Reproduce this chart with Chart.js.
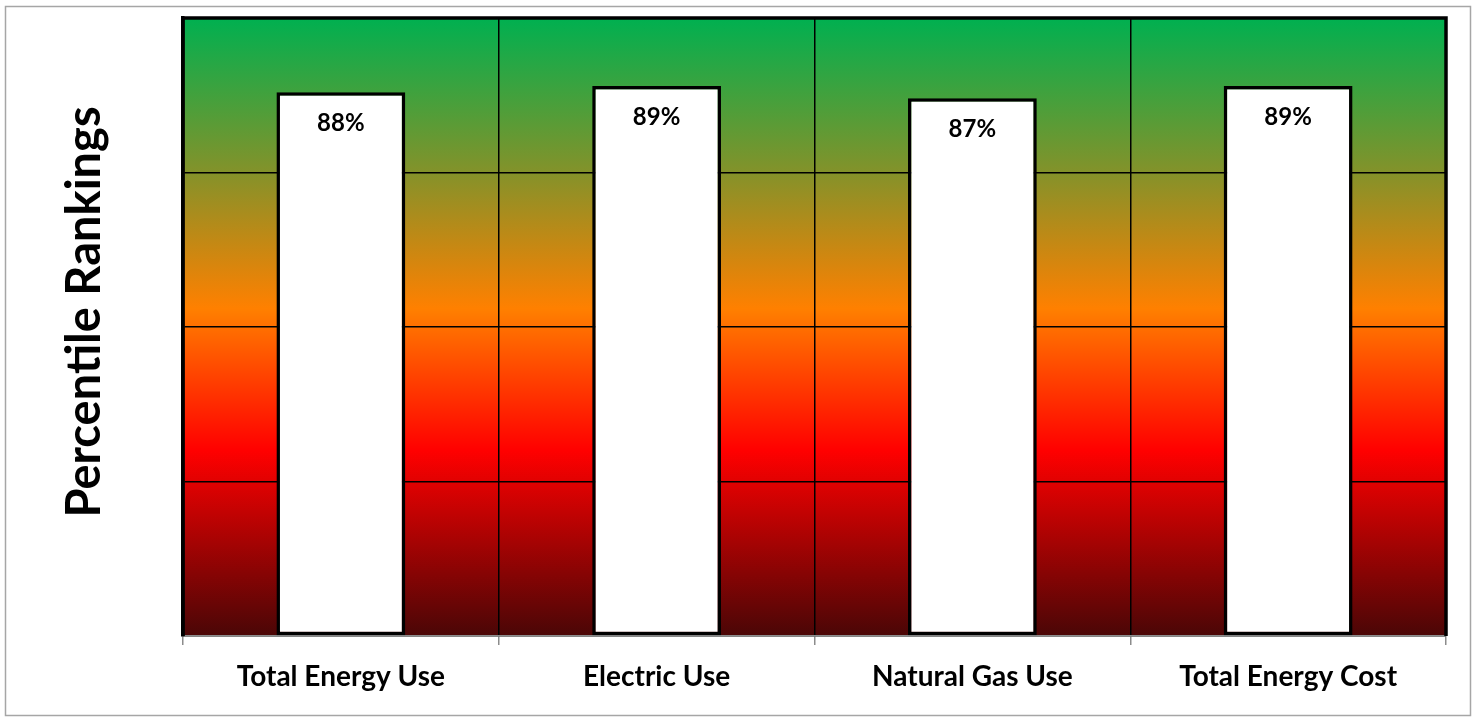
<!DOCTYPE html>
<html>
<head>
<meta charset="utf-8">
<script src="https://cdn.jsdelivr.net/npm/chart.js@4.4.1/dist/chart.umd.min.js"></script>
<style>
  html, body { margin: 0; padding: 0; background: #ffffff; }
  #wrap { width: 1476px; height: 722px; position: relative; }
</style>
</head>
<body>
<div id="wrap"><canvas id="chart" width="1476" height="722"></canvas></div>
<script>
// Percentile ranking per category
const categories = ['Total Energy Use', 'Electric Use', 'Natural Gas Use', 'Total Energy Cost'];
const percentiles = [88, 89, 87, 89];
const axisMin = 0;
const axisMax = 100;
const axisStep = 25;
const axisTitle = 'Percentile Rankings';

const FONT = 'Lato, "Open Sans", sans-serif';

// Figure frame plus the green-to-dark-red band behind the plot area
const bandBackground = {
  id: 'bandBackground',
  beforeDraw(chart) {
    const { ctx, chartArea: a } = chart;
    ctx.save();
    ctx.strokeStyle = '#a6a6a6';
    ctx.lineWidth = 1.5;
    ctx.strokeRect(5.5, 6.5, 1465, 709);
    const g = ctx.createLinearGradient(0, a.top, 0, a.bottom);
    g.addColorStop(0.00, '#00b050');
    g.addColorStop(0.25, '#84922a');
    g.addColorStop(0.47, '#ff8000');
    g.addColorStop(0.70, '#ff0000');
    g.addColorStop(1.00, '#4a0606');
    ctx.fillStyle = g;
    ctx.fillRect(a.left, a.top, a.right - a.left, a.bottom - a.top);
    ctx.restore();
  }
};

// Heavy frame on the top, left and right edges of the plot, and the
// rotated value-axis title
const plotFrame = {
  id: 'plotFrame',
  beforeDatasetsDraw(chart) {
    const { ctx, chartArea: a } = chart;
    ctx.save();
    ctx.strokeStyle = '#000000';
    ctx.lineWidth = 3.5;
    ctx.beginPath();
    ctx.moveTo(a.left, a.bottom);
    ctx.lineTo(a.left, a.top);
    ctx.lineTo(a.right, a.top);
    ctx.lineTo(a.right, a.bottom);
    ctx.stroke();
    ctx.restore();

    ctx.save();
    ctx.translate(100, (a.top + a.bottom) / 2 - 15);
    ctx.rotate(-Math.PI / 2);
    ctx.fillStyle = '#000000';
    ctx.font = 'bold 47px ' + FONT;
    ctx.textAlign = 'center';
    ctx.textBaseline = 'alphabetic';
    ctx.fillText(axisTitle, 0, 0);
    ctx.restore();
  }
};

// Percent value written just inside the top of each bar
const barValues = {
  id: 'barValues',
  afterDatasetsDraw(chart) {
    const { ctx } = chart;
    const meta = chart.getDatasetMeta(0);
    ctx.save();
    ctx.fillStyle = '#000000';
    ctx.font = 'bold 24px ' + FONT;
    ctx.textAlign = 'center';
    ctx.textBaseline = 'middle';
    meta.data.forEach((bar, i) => {
      ctx.fillText(percentiles[i] + '%', bar.x, bar.y + 31);
    });
    ctx.restore();
  }
};

new Chart(document.getElementById('chart'), {
  type: 'bar',
  data: {
    labels: categories,
    datasets: [{
      data: percentiles,
      backgroundColor: '#ffffff',
      borderColor: '#000000',
      borderWidth: 3.5,
      borderSkipped: false,
      barPercentage: 0.408,
      categoryPercentage: 1.0
    }]
  },
  options: {
    responsive: false,
    animation: false,
    devicePixelRatio: 1,
    layout: { padding: { top: 18, right: 30, bottom: 0, left: 0 } },
    plugins: {
      legend: { display: false },
      tooltip: { enabled: false }
    },
    scales: {
      x: {
        offset: true,
        grid: {
          offset: true,
          color: '#000000',
          lineWidth: 1.5,
          tickColor: '#8c8c8c',
          tickWidth: 1.5,
          tickLength: 9,
          drawOnChartArea: true
        },
        border: { display: true, color: '#8c8c8c', width: 1.5 },
        ticks: {
          color: '#000000',
          font: { family: FONT, size: 28, weight: 'bold' },
          padding: 15,
          maxRotation: 0,
          autoSkip: false
        },
        afterFit(scale) { scale.height = 86; }
      },
      y: {
        min: axisMin,
        max: axisMax,
        ticks: { stepSize: axisStep, display: false },
        grid: {
          color: '#000000',
          lineWidth: 1.5,
          drawTicks: false
        },
        border: { display: true, color: '#000000', width: 3.5 },
        afterFit(scale) { scale.width = 183; }
      }
    }
  },
  plugins: [bandBackground, plotFrame, barValues]
});
</script>
</body>
</html>
